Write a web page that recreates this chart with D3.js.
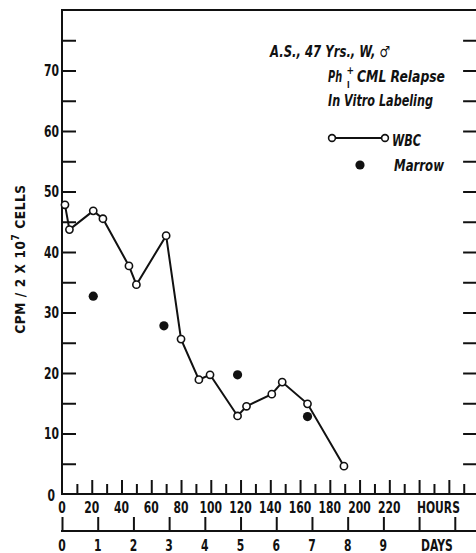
<!DOCTYPE html>
<html><head><meta charset="utf-8">
<script src="https://cdn.jsdelivr.net/npm/d3@7"></script>
<style>
html,body{margin:0;padding:0;background:#fff;}
svg text{font-family:"DejaVu Sans Condensed","DejaVu Sans",sans-serif;font-weight:bold;fill:#111;}
</style></head>
<body><svg id="c" width="476" height="553"></svg>
<script>
// ---- data ----
const wbcHours  = [2, 5, 21, 27.5, 45, 50, 70, 80, 92, 99.5, 118, 124, 141, 148, 165, 189.5];
const wbcValues = [47.8, 43.7, 46.8, 45.5, 37.7, 34.6, 42.7, 25.6, 18.9, 19.7, 12.9, 14.5, 16.5, 18.5, 14.9, 4.6];
const marrowHours  = [21, 68.5, 118, 165];
const marrowValues = [32.7, 27.8, 19.7, 12.8];
const yTickLabels = [0, 10, 20, 30, 40, 50, 60, 70];
const hourTickLabels = [0, 20, 40, 60, 80, 100, 120, 140, 160, 180, 200, 220];
const dayTickLabels = [0, 1, 2, 3, 4, 5, 6, 7, 8, 9];

const svg = d3.select("#c");
const L = 62, T = 10, B = 494, R = 478.6;
const x = d3.scaleLinear().domain([0, 280]).range([L, R]);
const y = d3.scaleLinear().domain([0, 80]).range([B, T]);
const xd = d3.scaleLinear().domain([0, 280/24]).range([L, R]);
const SX = 0.8, FS = 15;

function narrowText(g, tx, ty, str, anchor) {
  return g.append("text")
    .attr("transform", `translate(${tx},${ty}) scale(${SX},1)`)
    .attr("text-anchor", anchor).attr("font-size", FS).text(str);
}

// frame
svg.append("path").attr("d", `M${L},${B}V${T}H${R+2}`).attr("fill","none").attr("stroke","#111").attr("stroke-width",2);

// left y axis: ticks inward
const yTicks = d3.range(5, 80, 5);
const gL = svg.append("g").attr("transform", `translate(${L},0)`)
  .call(d3.axisRight(y).tickValues(yTicks).tickSize(14).tickFormat(""));
gL.select(".domain").remove();
gL.selectAll(".tick line").attr("stroke","#111").attr("stroke-width",2);
// right y axis
const gR = svg.append("g").attr("transform", `translate(${R-1.5},0)`)
  .call(d3.axisLeft(y).tickValues(yTicks).tickSize(14).tickFormat(""));
gR.select(".domain").remove();
gR.selectAll(".tick line").attr("stroke","#111").attr("stroke-width",2);
// y labels
const gYL = svg.append("g");
yTickLabels.forEach(d => {
  narrowText(gYL, d === 0 ? 55 : 59, (d === 0 ? y(d) + 1 : y(d)) + 5.5, d, "end");
});

// bottom hours axis: ticks upward
const hTicks = d3.range(10, 290, 10);
const gH = svg.append("g").attr("transform", `translate(0,${B})`)
  .call(d3.axisTop(x).tickValues(hTicks).tickSize(10).tickFormat(""));
gH.select(".domain").remove();
gH.selectAll(".tick line").attr("stroke","#111").attr("stroke-width",2)
  .attr("y2", d => d % 20 === 0 ? -14 : -10);
svg.append("line").attr("x1",L-1).attr("x2",476).attr("y1",B).attr("y2",B).attr("stroke","#111").attr("stroke-width",2.2);
const gHL = svg.append("g");
hourTickLabels.forEach(d => narrowText(gHL, x(d), 512.5, d, "middle"));
narrowText(gHL, x(253), 512.5, "HOURS", "middle");

// days axis
const DY = 531;
const gD = svg.append("g").attr("transform", `translate(0,${DY})`)
  .call(d3.axisTop(xd).tickValues(d3.range(0, 12, 1)).tickSize(14).tickFormat(""));
gD.select(".domain").remove();
gD.selectAll(".tick line").attr("stroke","#111").attr("stroke-width",2);
svg.append("line").attr("x1",L-1).attr("x2",476).attr("y1",DY).attr("y2",DY).attr("stroke","#111").attr("stroke-width",2.2);
const gDL = svg.append("g");
dayTickLabels.forEach(d => narrowText(gDL, xd(d), 550.5, d, "middle"));
narrowText(gDL, xd(10.5), 550.5, "DAYS", "middle");

// y axis title
const yt = svg.append("text").attr("transform","translate(25,259) rotate(-90)")
  .attr("text-anchor","middle").attr("font-size",13.5).attr("letter-spacing",0.6);
yt.append("tspan").text("CPM / 2 X 10");
yt.append("tspan").attr("dy",-6).attr("font-size",10).text("7");
yt.append("tspan").attr("dy",6).text(" CELLS");

// WBC line
const wbc = wbcHours.map((h,i) => [h, wbcValues[i]]);
svg.append("path").datum(wbc)
  .attr("d", d3.line().x(d => x(d[0])).y(d => y(d[1])))
  .attr("fill","none").attr("stroke","#111").attr("stroke-width",2);
svg.append("g").selectAll("circle").data(wbc).join("circle")
  .attr("cx", d => x(d[0])).attr("cy", d => y(d[1])).attr("r",3.6)
  .attr("fill","#fff").attr("stroke","#111").attr("stroke-width",1.6);
// marrow
const mar = marrowHours.map((h,i) => [h, marrowValues[i]]);
svg.append("g").selectAll("circle").data(mar).join("circle")
  .attr("cx", d => x(d[0])).attr("cy", d => y(d[1])).attr("r",4.6).attr("fill","#111");

// annotation / legend
const ann = svg.append("g").attr("font-style","italic").attr("font-size",15.5);
ann.append("text").attr("x",270).attr("y",57).attr("textLength",120).attr("lengthAdjust","spacingAndGlyphs")
  .text("A.S., 47 Yrs., W, \u2642");
ann.append("text").attr("transform","translate(328,82) scale(0.7,1)").text("Ph");
ann.append("text").attr("x",347).attr("y",88).attr("font-size",8).attr("font-style","normal").text("I");
ann.append("text").attr("x",346.5).attr("y",73.5).attr("font-size",10).text("+");
ann.append("text").attr("x",357).attr("y",82).attr("textLength",88).attr("lengthAdjust","spacingAndGlyphs").text("CML Relapse");
ann.append("text").attr("x",328).attr("y",106).attr("textLength",105).attr("lengthAdjust","spacingAndGlyphs")
  .text("In Vitro Labeling");
// WBC legend
svg.append("line").attr("x1",332).attr("x2",385).attr("y1",138).attr("y2",138)
  .attr("stroke","#111").attr("stroke-width",1.8);
svg.append("g").selectAll("circle").data([332,385]).join("circle")
  .attr("cx", d => d).attr("cy",138).attr("r",3.4).attr("fill","#fff").attr("stroke","#111").attr("stroke-width",1.6);
ann.append("text").attr("x",392).attr("y",145.5).attr("textLength",29).attr("lengthAdjust","spacingAndGlyphs").text("WBC");
svg.append("circle").attr("cx",360).attr("cy",165).attr("r",4.6).attr("fill","#111");
ann.append("text").attr("x",394).attr("y",171).attr("textLength",50).attr("lengthAdjust","spacingAndGlyphs").text("Marrow");
</script></body></html>
